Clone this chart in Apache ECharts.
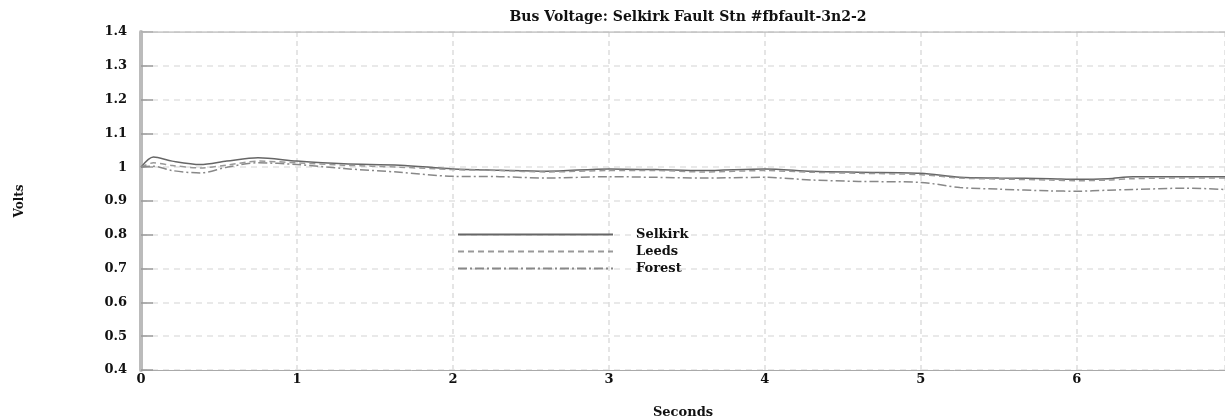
<!DOCTYPE html>
<html>
<head>
<meta charset="utf-8">
<script src="https://cdn.jsdelivr.net/npm/echarts@6/dist/echarts.min.js"></script>
<style>
  html, body { margin: 0; padding: 0; background: #fff; }
  #chart { width: 1225px; height: 417px; }
</style>
</head>
<body>
<div id="chart"></div>
<script>
// time samples (seconds)
const times = [0, 0.08, 0.2, 0.38, 0.55, 0.75, 1.0, 1.3, 1.66, 2.0, 2.3, 2.6, 3.0, 3.3, 3.6, 4.0, 4.3, 4.6, 5.0, 5.25, 5.5, 5.83, 6.0, 6.2, 6.36, 6.7, 6.95];

// bus voltages (pu)
const selkirk = [1.0, 1.03, 1.018, 1.008, 1.018, 1.028, 1.018, 1.01, 1.006, 0.995, 0.991, 0.988, 0.995, 0.993, 0.99, 0.995, 0.988, 0.985, 0.982, 0.97, 0.968, 0.966, 0.964, 0.966, 0.972, 0.972, 0.972];
const leeds = [1.0, 1.013, 1.005, 0.998, 1.006, 1.018, 1.013, 1.006, 1.0, 0.993, 0.99, 0.986, 0.99, 0.99, 0.986, 0.99, 0.985, 0.982, 0.978, 0.968, 0.965, 0.962, 0.96, 0.962, 0.966, 0.968, 0.968];
const forest = [1.0, 1.003, 0.99, 0.983, 1.0, 1.013, 1.008, 0.996, 0.985, 0.973, 0.972, 0.968, 0.972, 0.97, 0.968, 0.97, 0.962, 0.958, 0.955, 0.94, 0.935, 0.93, 0.929, 0.932, 0.934, 0.938, 0.934];

const seriesNames = ['Selkirk', 'Leeds', 'Forest'];

const pairs = vals => times.map((t, i) => [t, vals[i]]);

const chart = echarts.init(document.getElementById('chart'));

const font = 'DejaVu Serif';

chart.setOption({
    animation: false,
    backgroundColor: '#fff',
    title: {
        text: 'Bus Voltage: Selkirk Fault Stn #fbfault-3n2-2',
        left: 683,
        textAlign: 'center',
        top: 5,
        textStyle: { fontFamily: font, fontSize: 14, fontWeight: 'bold', color: '#111' }
    },
    legend: {
        data: seriesNames,
        orient: 'vertical',
        left: 452,
        top: 223,
        itemWidth: 155,
        itemHeight: 12,
        itemGap: 4,
        itemStyle: { opacity: 0 },
        textStyle: { fontFamily: font, fontSize: 13, fontWeight: 'bold', color: '#111', padding: [0, 0, 0, 18] }
    },
    grid: { left: 141, right: 0, top: 32, bottom: 47, outerBoundsMode: 'none' },
    xAxis: {
        type: 'value',
        min: 0, max: 6.95, interval: 1,
        name: 'Seconds',
        nameLocation: 'middle',
        nameGap: 36,
        nameTextStyle: { fontFamily: font, fontSize: 13, fontWeight: 'bold', color: '#111' },
        axisLine: { onZero: false, lineStyle: { color: '#aaa', width: 1 } },
        axisTick: { show: false },
        axisLabel: {
            fontFamily: font, fontSize: 13, fontWeight: 'bold', color: '#111', margin: 3,
            formatter: v => (Math.abs(v - Math.round(v)) < 1e-6 ? String(Math.round(v)) : '')
        },
        splitLine: { show: true, lineStyle: { color: '#ddd', type: [5, 4], width: 1.5 } }
    },
    yAxis: {
        type: 'value',
        min: 0.4, max: 1.4, interval: 0.1,
        name: 'Volts',
        nameLocation: 'middle',
        nameGap: 115,
        nameTextStyle: { fontFamily: font, fontSize: 12, fontWeight: 'bold', color: '#111' },
        axisLine: { lineStyle: { color: '#bbb', width: 4 } },
        axisTick: { inside: true, length: 12, lineStyle: { color: '#999', width: 1.5 } },
        axisLabel: {
            fontFamily: font, fontSize: 13, fontWeight: 'bold', color: '#111', margin: 14,
            formatter: v => String(Math.round(v * 10) / 10)
        },
        splitLine: { show: true, lineStyle: { color: '#e2e2e2', type: [6, 5], width: 1.5 } }
    },
    series: [
        {
            name: 'Selkirk', type: 'line', data: pairs(selkirk), symbol: 'none', smooth: 0.3,
            lineStyle: { color: '#666', width: 1.5 }, itemStyle: { color: '#666' }
        },
        {
            name: 'Leeds', type: 'line', data: pairs(leeds), symbol: 'none', smooth: 0.3,
            lineStyle: { color: '#999', width: 1.5, type: [6, 4] }, itemStyle: { color: '#999' }
        },
        {
            name: 'Forest', type: 'line', data: pairs(forest), symbol: 'none', smooth: 0.3,
            lineStyle: { color: '#888', width: 1.5, type: [9, 3, 2, 3] }, itemStyle: { color: '#888' }
        },
        {
            // top border of the plot frame
            type: 'line', data: [[0, 1.4], [6.95, 1.4]], symbol: 'none', silent: true,
            lineStyle: { color: '#bbb', width: 1.5 }, tooltip: { show: false }
        }
    ]
});
</script>
</body>
</html>
